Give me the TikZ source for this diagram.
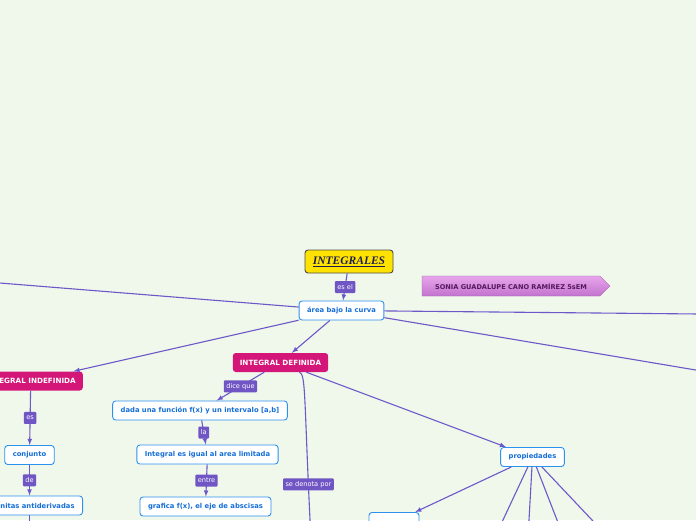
\documentclass[tikz,border=0pt]{standalone}
\usepackage{fontspec}
\setsansfont{DejaVu Sans}
\newfontfamily\titlefont{Liberation Serif}
\usetikzlibrary{arrows,shapes.symbols}

\definecolor{bgcol}{RGB}{240,248,236}
\definecolor{linkcol}{RGB}{108,88,200}
\definecolor{lblcol}{RGB}{112,86,196}
\definecolor{topicblue}{RGB}{45,145,240}
\definecolor{textblue}{RGB}{20,110,215}
\definecolor{mainpink}{RGB}{212,22,120}
\definecolor{titleyellow}{RGB}{255,226,0}
\definecolor{titlenavy}{RGB}{30,30,80}
\definecolor{bannertop}{RGB}{230,165,235}
\definecolor{bannerbot}{RGB}{195,115,205}
\definecolor{bannertext}{RGB}{85,25,95}

\tikzset{
  topic/.style={draw=topicblue, line width=0.9pt, fill=white, rounded corners=3pt,
    text=textblue, font=\sffamily\bfseries\fontsize{6.8}{8}\selectfont,
    inner xsep=8pt, minimum height=19pt},
  main/.style={fill=mainpink, rounded corners=3pt, text=white,
    font=\sffamily\bfseries\fontsize{7.2}{8}\selectfont,
    inner xsep=7pt, minimum height=19pt},
  lbl/.style={fill=lblcol, text=white, font=\sffamily\fontsize{6.6}{7}\selectfont,
    inner xsep=2.5pt, inner ysep=1.5pt, rounded corners=1pt, minimum height=12pt},
  link/.style={draw=linkcol, line width=1.1pt, -latex}
}

\begin{document}
\begin{tikzpicture}[x=1pt, y=-1pt]
\fill[bgcol] (0,0) rectangle (696,520);
\useasboundingbox (0,0) rectangle (696,520);
\clip (0,0) rectangle (696,520);

% Main topic and author banner
\node[draw=black!70, line width=0.9pt, fill=titleyellow, rounded corners=3pt,
  minimum width=88pt, minimum height=23pt, text=titlenavy,
  font=\titlefont\bfseries\itshape\fontsize{11.5}{13}\selectfont] (integrales) at (349,261.5) {\underline{INTEGRALES}};
\node[signal, signal to=east, minimum width=188pt, minimum height=20pt,
  top color=bannertop, bottom color=bannerbot, draw=bannerbot!80!black, line width=0.3pt,
  text=bannertext, font=\sffamily\bfseries\fontsize{6.6}{8}\selectfont] (autora) at (511,286) {SONIA GUADALUPE CANO RAMÍREZ 5sEM};
\node[topic] (area) at (341.5,310.5) {área bajo la curva};

% Branches
\node[main] (defin) at (280.5,362.5) {INTEGRAL DEFINIDA};
\node[main, anchor=east] (indefin) at (83,381) {INTEGRAL INDEFINIDA};
\node[topic] (conj) at (29.5,455) {conjunto};
\node[topic, anchor=east] (infin) at (83,505.5) {infinitas antiderivadas};
\node[topic] (dada) at (200,410.5) {dada una función f(x) y un intervalo [a,b]};
\node[topic] (igual) at (207.5,454.5) {Integral es igual al area limitada};
\node[topic] (grafica) at (205.5,506.5) {grafica f(x), el eje de abscisas};
\node[topic] (prop) at (532.5,457) {propiedades};
\node[topic, minimum width=50pt] (prop1) at (394,522) {};

% Free ends outside the page
\coordinate (izq) at (-60,278.2);
\coordinate (der) at (760,314.6);
\coordinate (derabajo) at (760,380.8);
\coordinate (bajoinf) at (29.5,540);
\coordinate (denota) at (311,540);
\coordinate (p2) at (493.6,540);
\coordinate (p3) at (527.9,540);
\coordinate (p4) at (564.8,540);
\coordinate (p5) at (610.9,540);

% Connectors
\draw[link] (integrales) -- node[lbl] {es el} (area);
\draw[link] (area) -- (izq);
\draw[link] (area) -- (der);
\draw[link] (area) -- (derabajo);
\draw[link] (area) -- (indefin);
\draw[link] (area) -- (defin);
\draw[link] (indefin) -- node[lbl] {es} (conj);
\draw[link] (conj) -- node[lbl] {de} (conj |- infin.north);
\draw[link] (infin.south -| conj) -- (bajoinf);
\draw[link] (defin) -- node[lbl] {dice que} (dada);
\draw[link] (dada) -- node[lbl] {la} (igual);
\draw[link] (igual) -- node[lbl] {entre} (grafica);
\draw[link] ([xshift=19pt]defin.south) .. controls (306,374) and (304,400) .. node[lbl, pos=0.85] {se denota por} (denota);
\draw[link] (defin) -- (prop);
\draw[link] (prop) -- (prop1);
\foreach \p in {p2,p3,p4,p5}
  \draw[link] (prop) -- (\p);
\end{tikzpicture}
\end{document}
